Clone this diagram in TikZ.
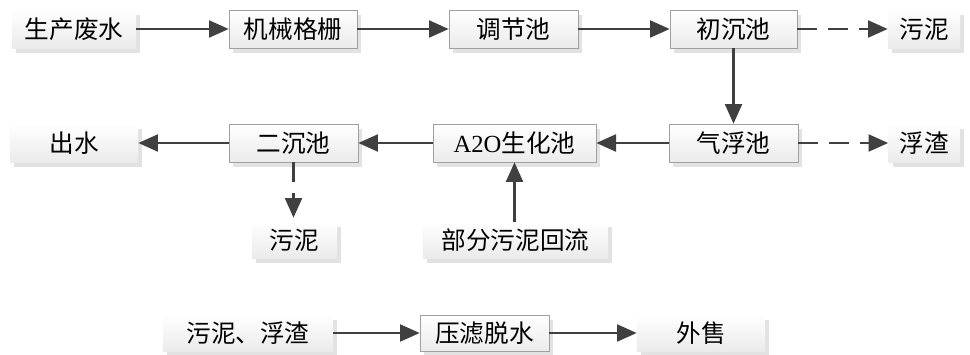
\documentclass[tikz,border=0pt]{standalone}
\usepackage{fontspec}
\setmainfont{Liberation Serif}
\newfontfamily\cjk{Noto Sans CJK SC}
\usetikzlibrary{arrows.meta,shadows}
\definecolor{linegray}{HTML}{404040}
\definecolor{framegray}{HTML}{A0A0A0}

\begin{document}
\begin{tikzpicture}[x=0.025cm,y=-0.025cm,
  plain/.style={inner sep=0pt,minimum height=0.95cm,top color=white,bottom color=gray!16,
    drop shadow={shadow xshift=0.1cm,shadow yshift=-0.12cm,fill=gray!45,opacity=.5},
    font=\fontsize{17.5}{20}\selectfont\cjk},
  box/.style={plain,draw=framegray},
  flow/.style={draw=linegray,line width=1.9pt,-{Triangle[length=14pt,width=12pt]}},
  aside/.style={flow,dash pattern=on 14pt off 8pt}]
  \useasboundingbox (0,0) rectangle (970,354);
  \node[plain,minimum width=3.1cm] (water) at (74,29) {生产废水};
  \node[box,minimum width=3.2cm] (screen) at (293,29) {机械格栅};
  \node[box,minimum width=3.225cm] (equal) at (513.5,29) {调节池};
  \node[box,minimum width=3.175cm] (primary) at (733.5,29) {初沉池};
  \node[plain,minimum width=1.8cm] (sludgeA) at (924,29) {污泥};
  \node[plain,minimum width=3.2cm] (outlet) at (74,143) {出水};
  \node[box,minimum width=3.225cm] (second) at (293.5,143) {二沉池};
  \node[box,minimum width=4.075cm] (aao) at (514.5,143) {{\rmfamily A2O}生化池};
  \node[box,minimum width=3.225cm] (float) at (733.5,143) {气浮池};
  \node[plain,minimum width=1.775cm] (scum) at (924,143) {浮渣};
  \node[plain,minimum width=2.125cm,minimum height=0.9cm] (sludgeB) at (294.5,240) {污泥};
  \node[plain,minimum width=4.625cm,minimum height=0.9cm] (reflux) at (515.5,240) {部分污泥回流};
  \node[plain,minimum width=4.25cm,minimum height=0.9cm] (mixed) at (248,333) {污泥、浮渣};
  \node[box,minimum width=3.225cm,minimum height=0.9cm] (press) at (484.5,333) {压滤脱水};
  \node[plain,minimum width=3.2cm,minimum height=0.9cm] (sale) at (701,333) {外售};
  \draw[flow] (water) -- (screen);
  \draw[flow] (screen) -- (equal);
  \draw[flow] (equal) -- (primary);
  \draw[aside] (primary) -- (sludgeA);
  \draw[flow] (primary) -- (float);
  \draw[aside] (float) -- (scum);
  \draw[flow] (float) -- (aao);
  \draw[flow] (aao) -- (second);
  \draw[flow] (second) -- (outlet);
  \draw[aside] (second.south) -- ([yshift=0.1cm]second.south |- sludgeB.north);
  \draw[flow] (reflux.north -| aao.south) -- (aao.south);
  \draw[flow] (mixed) -- (press);
  \draw[flow] (press) -- (sale);
\end{tikzpicture}
\end{document}
